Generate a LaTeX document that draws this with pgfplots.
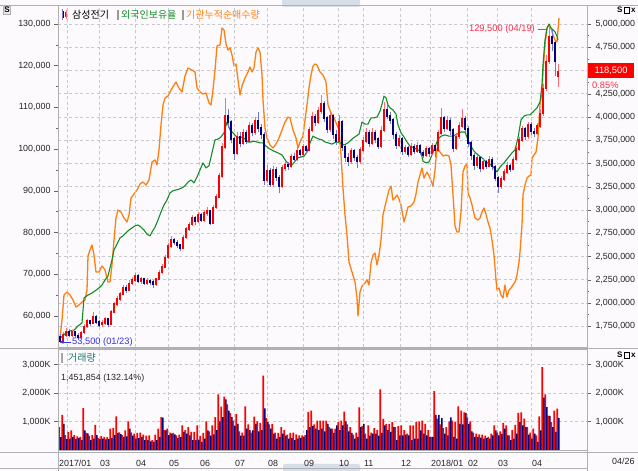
\documentclass[border=0pt]{standalone}
\usepackage{pgfplots}
\pgfplotsset{compat=1.18}
\usepackage{pgfplotstable}
\usetikzlibrary{arrows.meta}
\usepackage{fontspec}
\setmainfont{Liberation Sans}
\newfontfamily\kr{Noto Sans CJK KR}
\definecolor{bg}{RGB}{252,250,253}
\definecolor{frame}{RGB}{175,175,180}
\definecolor{gridc}{RGB}{200,200,205}
\definecolor{upred}{RGB}{255,0,0}
\definecolor{dnblue}{RGB}{0,0,128}
\definecolor{upwick}{RGB}{255,110,120}
\definecolor{dnwick}{RGB}{120,120,200}
\definecolor{orng}{RGB}{255,128,16}
\definecolor{grn}{RGB}{20,140,40}
\definecolor{lblred}{RGB}{255,45,75}
\definecolor{lblblue}{RGB}{50,50,230}
\definecolor{tealc}{RGB}{30,120,110}
\definecolor{tabc}{RGB}{215,222,230}

\pgfplotstableread{
x o c h l vr vb
60 55000 54000 55600 53500 800 450
63 54000 55500 56200 53800 1230 920
66 55500 56300 57000 55000 520 380
69 56300 55400 56800 54900 630 400
72 55400 56200 56700 55000 690 450
75 56200 55300 56500 54800 520 380
78 55300 54800 55900 54200 480 420
81 54800 56000 56400 54500 460 350
84 56000 57500 58000 55700 1470 690
87 57500 58700 59300 57100 600 580
90 58700 58200 59100 57600 500 350
93 58200 59800 60900 58000 520 400
96 59800 58600 60200 58100 885 520
99 58600 57900 59000 57300 420 380
102 57900 58300 58900 57400 490 400
105 58300 59200 59700 57900 460 370
108 59200 58000 59600 57400 450 380
111 58000 61000 61500 57800 750 420
114 61000 62800 63300 60700 770 520
117 62800 64000 64800 62400 1180 600
120 64000 65200 65800 63600 620 560
123 65200 66800 67400 64900 520 460
126 66800 66200 67500 65600 689 480
129 66200 67800 68500 65900 1000 750
132 67800 68600 69300 67300 620 500
135 68600 69700 70400 68200 574 402
138 69700 68300 70100 67800 600 420
141 68300 68800 69400 67700 609 460
144 68800 67900 69200 67400 540 345
147 67900 68500 69000 67400 500 350
150 68500 68100 68900 67500 517 300
153 68100 67600 68500 66800 350 287
156 67600 68800 69200 67200 540 345
159 68800 70400 70900 68500 747 460
162 70400 71800 72400 70000 1150 1140
165 71800 74000 74600 71500 700 689
168 74000 76800 77500 73700 747 520
171 76800 78200 79200 76300 609 574
174 78200 77600 78800 77000 600 550
177 77600 77000 78100 76200 517 420
180 77000 76300 77300 75600 540 450
183 76300 78800 79300 76000 862 632
186 78800 80800 81400 78500 700 574
189 80800 81900 82600 80300 804 517
192 81900 83400 84200 81500 632 345
195 83400 82600 83900 81900 632 345
198 82600 84200 85000 82200 862 368
201 84200 83000 84600 82400 494 287
204 83000 84600 85400 82600 600 400
207 84600 85200 86000 83900 1000 689
210 85200 82300 85500 81700 650 500
213 82300 86000 86600 82000 862 550
216 86000 88500 89200 85600 1150 700
219 88500 93500 94300 88200 1950 1000
222 93500 100500 101500 93000 1520 1150
225 100500 108000 112200 100000 1870 1780
228 108000 106500 109500 105000 1600 1380
231 106500 102500 107000 101500 1300 1150
234 102500 99000 103000 97500 1034 850
237 99000 103000 104000 98500 1260 919
240 103000 101500 104200 100500 650 500
243 101500 103800 104800 101000 609 500
246 103800 102000 104500 101200 1530 747
249 102000 105500 106500 101500 900 700
252 105500 104000 106300 103200 609 689
255 104000 106800 107800 103500 1170 919
258 106800 105000 108900 104200 1000 655
261 105000 103500 106000 102500 954 700
264 103500 92500 104000 91500 2610 1460
267 92500 94800 96200 91800 1115 977
270 94800 91500 95500 90800 900 750
273 91500 95000 96000 91000 919 574
276 95000 93200 95800 92300 609 402
279 93200 91000 93800 89500 600 450
282 91000 95500 96300 90600 804 574
285 95500 96200 97000 94800 700 500
288 96200 95800 97000 95000 540 402
291 95800 98200 98900 95400 600 420
294 98200 97600 99000 96800 609 345
297 97600 99500 100300 97200 550 400
300 99500 98800 100100 98000 517 425
303 98800 100500 101300 98300 517 460
306 100500 99800 101000 99000 520 700
309 99800 104500 105300 99500 1340 800
312 104500 107800 108800 104000 1380 850
315 107800 106500 108500 105500 900 747
318 106500 109200 110200 106000 1034 700
321 109200 110800 113000 108500 1034 750
324 110800 107500 111500 106500 1034 655
327 107500 104800 108000 103800 1034 919
330 104800 108000 109000 104200 800 747
333 108000 103500 108500 102500 747 600
336 103500 102000 104500 101000 747 862
339 102000 106500 108200 101500 980 700
342 106500 100500 107000 99500 1034 862
345 100500 98000 101000 97000 1344 1000
348 98000 97200 99000 96000 900 655
351 97200 99500 100300 96500 804 600
354 99500 98000 100000 97200 540 402
357 98000 97000 98500 95500 609 450
360 97000 99800 100500 96500 1494 800
363 99800 102000 103000 99200 850 919
366 102000 104000 105000 101500 574 402
369 104000 101500 104500 100500 862 500
372 101500 103800 105000 101000 609 574
375 103800 102500 104500 101500 770 574
378 102500 100800 103000 100000 700 500
381 100800 104500 105500 100300 2126 600
384 104500 109500 111300 104000 1092 862
387 109500 108000 110800 107200 919 700
390 108000 107000 109000 106000 919 632
393 107000 103500 107500 102500 977 804
396 103500 101000 104000 100000 804 345
399 101000 102500 103500 100500 839 517
402 102500 99500 103000 98500 862 517
405 99500 100200 101000 98800 700 540
408 100200 98800 100800 98000 574 517
411 98800 100500 101500 98300 862 345
414 100500 99600 101200 98800 862 400
417 99600 100800 101700 99000 977 400
420 100800 99200 101200 98500 1000 689
423 99200 98500 99800 97800 1034 574
426 98500 100000 100800 98000 919 517
429 100000 99000 100500 98200 700 460
432 99000 100800 101500 98500 460 460
435 100800 99800 101300 98200 2068 1229
438 99800 103800 104500 99300 1100 1229
441 103800 107500 109900 103300 900 1114
444 107500 105000 108000 104200 770 574
447 105000 106800 108000 104500 804 517
450 106800 104500 107500 103500 1000 1149
453 104500 100200 105000 99300 1034 460
456 100200 103000 103800 99800 977 400
459 103000 105500 106500 102500 1528 919
462 105500 107200 109500 105000 1379 900
465 107200 104800 108000 104000 1321 1300
468 104800 101500 105500 100500 1149 919
471 101500 98500 102000 97500 1000 655
474 98500 96200 99000 95000 609 460
477 96200 97800 98500 95500 574 460
480 97800 95500 98200 94500 550 430
483 95500 97000 97800 95000 540 402
486 97000 96000 97500 95200 500 420
489 96000 97500 98300 95600 460 402
492 97500 95800 98000 95000 574 517
495 95800 93000 96200 92300 862 689
498 93000 91000 93500 89500 609 517
501 91000 92800 93600 90500 650 560
504 92800 94500 95200 92300 954 747
507 94500 96000 96800 94000 862 517
510 96000 95200 96500 94500 517 345
513 95200 97500 98200 95000 700 402
516 97500 100000 100800 97200 885 574
519 100000 102200 103000 99500 1300 977
522 102200 104800 105500 101800 1321 862
525 104800 103000 105300 102200 1100 800
528 103000 105800 106500 102500 804 540
531 105800 104200 106500 103500 609 402
534 104200 103800 105000 102800 747 574
537 103800 105500 106300 103300 517 287
540 105500 108500 109500 105000 1183 689
543 108500 114500 115500 108000 2907 1840
546 114500 121000 122500 114000 1953 1500
549 121000 127000 129500 120500 1206 1200
552 127000 125500 128500 123500 977 804
555 125500 121000 126000 117500 1379 632
558 117500 118500 120500 115000 1452 1114
}\candles

\pgfplotstableread{
x v
60 1623600
62 1817100
64 2085900
67 2118200
70 2085900
73 2032200
76 1956900
79 1978500
82 2010700
85 2032200
87 2139700
88 2505300
90 2569800
92 2623600
94 2516800
96 2333300
99 2333300
102 2397800
105 2354800
108 2225700
110 2225700
112 2408500
114 2677400
116 2913900
118 2999900
121 2978400
124 2913900
127 2870900
129 2946100
131 3129000
134 3172000
137 3215000
140 3279500
143 3301000
146 3268800
149 3322500
152 3516100
155 3537600
157 3483800
159 3645100
161 3913900
163 4129000
165 4204300
168 4225800
171 4290300
174 4344100
176 4376300
179 4311800
182 4268800
185 4440800
188 4526900
192 4505400
195 4483900
197 4311800
200 4268800
203 4247300
206 4258000
209 4150500
211 4129000
213 4290300
215 4505400
217 4763400
220 4774200
222 4957000
224 4935500
226 4784900
228 4720400
230 4741900
232 4666700
234 4548400
236 4569900
238 4397800
240 4236500
242 4333300
245 4419300
248 4483900
250 4537600
252 4483900
254 4526900
256 4698900
258 4741900
260 4698900
262 4451600
263 4182800
265 3881700
267 3774200
270 3698900
273 3666700
276 3709600
279 3774200
282 3860200
285 3946200
288 4000000
290 3989200
293 3860200
296 3774200
298 3666700
300 3731100
303 3795700
305 3967700
307 4129000
309 4311800
311 4451600
313 4548400
315 4569900
317 4559100
320 4483900
323 4451600
326 4376300
328 4129000
331 4043000
334 3989200
337 3913900
339 3860200
341 3591400
343 3236500
345 2946200
347 2731100
349 2440800
352 2333300
355 2225700
357 2053700
358 1860100
360 2118200
362 2183000
365 2215000
367 2247300
369 2193500
371 2430000
373 2516000
375 2537600
377 2408500
379 2516000
381 2677400
383 2946200
386 3086000
389 3215000
391 3258000
393 3107500
395 3129000
397 3161200
399 3118200
401 3053700
404 2870900
406 2946200
408 3032200
411 3043000
414 3086000
416 3172000
418 3301000
420 3376300
422 3451600
424 3344000
427 3408500
430 3344000
433 3258000
435 3430000
437 3666600
440 3623600
443 3580600
446 3591400
449 3580600
451 3483800
453 3161200
455 2827900
457 2763400
459 2763400
461 2978400
463 3408600
465 3473100
467 3494600
468 3182700
470 3129000
472 3053700
475 2913900
478 2892400
480 2913900
482 2978400
484 3021400
486 2956900
488 2870900
490 2806400
492 2677400
494 2516000
496 2247200
497 2139700
499 2161200
501 2085900
503 2053700
505 2193500
507 2064400
509 2139700
511 2161200
513 2193500
515 2225700
517 2301000
519 2440800
520 2548300
522 2838600
523 3161200
525 3268800
527 3344000
529 3365500
531 3376300
532 3559100
534 3591400
536 3623600
538 3774200
540 4129000
542 4268800
543 4483900
545 4774200
547 4957000
549 4989200
551 4957000
553 4881700
555 4827900
557 4806400
558 4935500
559 5064500
}\orangetab

\pgfplotstableread{
x p
60 54700
63 55200
66 55900
70 56400
74 56600
78 57600
82 58300
84 64300
88 65000
92 65500
95 66000
99 66700
102 67400
105 68600
108 69600
110 71500
112 73400
114 75800
117 77200
120 78700
123 79200
126 79900
129 80600
132 81100
135 81600
138 81800
141 81300
144 80600
147 79600
150 79200
152 80100
155 81300
158 83000
161 84900
164 86600
167 87800
170 89500
173 90000
176 90200
179 90400
182 90700
185 91200
188 92100
191 92600
194 91900
197 93300
200 95000
203 96700
206 95500
209 96000
212 99100
215 102200
218 102400
221 102900
224 103900
227 106500
230 104600
233 103900
236 103100
239 102700
242 102900
245 102400
248 101700
251 101700
254 101900
257 101700
260 101500
263 101500
266 100700
270 100000
274 99500
278 99100
282 98600
286 97100
289 96400
292 96200
295 97100
298 97900
301 98100
304 98300
307 99300
310 101500
313 103100
316 102700
319 102400
322 102200
325 101700
328 101500
332 101200
336 101700
340 101500
344 101000
348 101500
352 102400
356 103100
359 103600
362 106500
365 106000
368 106000
371 107500
374 107500
377 107700
380 109100
382 110800
384 112700
386 112300
388 110600
390 109900
393 109400
396 108400
398 105800
401 103900
404 102900
407 101700
410 100700
414 100300
418 99800
421 99300
423 97100
426 96700
429 96900
432 98600
435 100500
438 102400
441 103100
445 103400
449 103100
453 103100
457 103600
461 104100
465 104100
468 102200
471 100700
474 99500
478 98600
482 97900
486 96900
490 96400
494 95500
497 94500
500 95700
504 96700
508 97900
512 99100
515 99800
518 102700
521 107000
524 107900
527 108200
530 108200
533 108900
537 109900
540 111300
542 115400
543 120200
545 126200
547 129000
549 130000
551 129000
553 128600
555 128100
557 127100
558 126200
}\greentab

\pgfplotsset{
  base/.style={
    scale only axis, width=529pt, xmin=58, xmax=587,
    scaled ticks=false,
    axis line style={draw=frame, line width=0.6pt},
    tick align=outside,
    major tick length=4pt, minor tick length=2pt,
    tick style={draw=black!60, line width=0.4pt},
    ticklabel style={font=\fontsize{8.9}{9}\selectfont, text=black!85},
    grid style={draw=gridc, line width=0.5pt, dash pattern=on 3pt off 2.5pt},
    clip=true,
  },
  candle/.style={draw=none, no markers, forget plot},
}

\begin{document}
\begin{tikzpicture}[x=1pt,y=1pt]
\useasboundingbox (0,0) rectangle (638,471);
\fill[bg] (0,0) rectangle (638,471);
\begin{scope}
\clip (0,0) rectangle (638,471);
\fill[tabc, rounded corners=2pt] (282,476) rectangle (360,464);
\fill[tabc, rounded corners=2pt] (283,-5) rectangle (360,7);
\end{scope}

% right axis: institution cumulative net purchases + horizontal grid
\begin{axis}[base, at={(58pt,124pt)}, anchor=south west, height=342pt,
  ymin=1526800, ymax=5204300,
  axis x line=none, axis y line*=right,
  ytick={1750000,2000000,2250000,2500000,2750000,3000000,3250000,3500000,3750000,4000000,4250000,4500000,4750000,5000000},
  yticklabels={{1,750,000},{2,000,000},{2,250,000},{2,500,000},{2,750,000},{3,000,000},{3,250,000},{3,500,000},{3,750,000},{4,000,000},{4,250,000},{},{4,750,000},{5,000,000}},
  minor y tick num=1, ymajorgrids,
  yticklabel style={xshift=1pt},
]
\addplot[orng, line width=1.3pt, line join=round] table[x=x, y=v]{\orangetab};
\end{axis}

% left axis: price candles + foreign ownership
\begin{axis}[base, at={(58pt,124pt)}, anchor=south west, height=342pt,
  ymin=52545, ymax=134556,
  ytick={60000,70000,80000,90000,100000,110000,120000,130000},
  yticklabels={{60,000},{70,000},{80,000},{90,000},{100,000},{110,000},{120,000},{130,000}},
  minor y tick num=1, ytick pos=left,
  xtick={67,99,135,168,199,234,267,303,338,363,400,430,467,497,531},
  xticklabels={}, xtick style={draw=none}, xmajorgrids,
]
\addplot[grn, line width=1.1pt, line join=round] table[x=x, y=p]{\greentab};
% wicks
\addplot[candle,
  restrict expr to domain={\thisrow{c}-\thisrow{o}}{0:10000000},
  error bars/.cd, y dir=both, y explicit, error mark=none,
  error bar style={line width=0.8pt, draw=upwick}]
  table[x=x, y expr={(\thisrow{h}+\thisrow{l})/2}, y error expr={(\thisrow{h}-\thisrow{l})/2}]{\candles};
\addplot[candle,
  restrict expr to domain={\thisrow{c}-\thisrow{o}}{-10000000:-1},
  error bars/.cd, y dir=both, y explicit, error mark=none,
  error bar style={line width=0.8pt, draw=dnwick}]
  table[x=x, y expr={(\thisrow{h}+\thisrow{l})/2}, y error expr={(\thisrow{h}-\thisrow{l})/2}]{\candles};
% bodies
\addplot[candle,
  restrict expr to domain={\thisrow{c}-\thisrow{o}}{0:10000000},
  error bars/.cd, y dir=both, y explicit, error mark=none,
  error bar style={line width=2.8pt, draw=upred}]
  table[x=x, y expr={(\thisrow{o}+\thisrow{c})/2}, y error expr={abs(\thisrow{c}-\thisrow{o})/2+200}]{\candles};
\addplot[candle,
  restrict expr to domain={\thisrow{c}-\thisrow{o}}{-10000000:-1},
  error bars/.cd, y dir=both, y explicit, error mark=none,
  error bar style={line width=2.8pt, draw=dnblue}]
  table[x=x, y expr={(\thisrow{o}+\thisrow{c})/2}, y error expr={abs(\thisrow{c}-\thisrow{o})/2+200}]{\candles};
\end{axis}

% volume pane
\begin{axis}[base, at={(58pt,21pt)}, anchor=south west, height=101pt,
  ymin=0, ymax=3544,
  ytick={1000,2000,3000}, yticklabels={{1,000K},{2,000K},{3,000K}},
  ytick pos=left, ymajorgrids, xmajorgrids,
  xtick={58,67,99,135,168,199,234,267,303,338,363,400,430,467,497,531},
  xticklabels={2017/01,,03,04,05,06,07,08,09,10,11,12,2018/01,02,03,04},
  xtick style={draw=none},
  xticklabel style={anchor=north west, inner sep=0pt, xshift=1pt, yshift=-6pt},
]
\addplot[ybar, bar width=1.6pt, bar shift=-0.8pt, fill=upred, draw=none] table[x=x, y=vr]{\candles};
\addplot[ybar, bar width=1.6pt, bar shift=0.8pt, fill=dnblue, draw=none] table[x=x, y=vb]{\candles};
\end{axis}
\begin{axis}[base, at={(58pt,21pt)}, anchor=south west, height=101pt,
  ymin=0, ymax=3544, axis x line=none, axis y line*=right,
  ytick={1000,2000,3000}, yticklabels={{1,000K},{2,000K},{3,000K}},
  yticklabel style={xshift=1pt},
]
\end{axis}

% frame lines
\draw[frame, line width=0.6pt] (0,19) -- (638,19);
\draw[frame, line width=0.6pt] (0,3) -- (587,3);
\draw[frame, line width=0.6pt] (58,0) -- (58,466);
\draw[frame, line width=0.6pt] (587,0) -- (587,466);
\draw[frame, line width=0.6pt] (0,123) -- (638,123);
\draw[frame, line width=0.6pt] (0,466) -- (638,466);

% corner icons
\node[draw=frame, fill=black!8, inner sep=1pt, font=\bfseries\fontsize{8}{8}\selectfont] at (7,461) {S};
\node[anchor=west, inner sep=0pt, font=\bfseries\fontsize{8}{8}\selectfont] at (617,461) {S};
\draw[black, line width=0.6pt] (624.5,458) rectangle (629.5,464);
\node[anchor=west, inner sep=0pt, font=\bfseries\fontsize{8}{8}\selectfont] at (631,461) {x};
\node[anchor=west, inner sep=0pt, font=\bfseries\fontsize{8}{8}\selectfont] at (617,116) {S};
\draw[black, line width=0.6pt] (624.5,113) rectangle (629.5,119);
\node[anchor=west, inner sep=0pt, font=\bfseries\fontsize{8}{8}\selectfont] at (631,116) {x};

% legend
\fill[dnblue] (61.5,453) rectangle (63.5,460);
\draw[dnwick, line width=0.5pt] (62.5,451) -- (62.5,462);
\fill[upred] (65,454) rectangle (67,459);
\draw[upwick, line width=0.5pt] (66,452) -- (66,461);
\node[anchor=west, inner sep=0pt, font=\kr\fontsize{10}{10}\selectfont] at (72,456) {삼성전기};
\fill[black!40] (117,451) rectangle (119,461);
\node[anchor=west, inner sep=0pt, text=grn, font=\kr\fontsize{10}{10}\selectfont] at (121,456) {외국인보유율};
\fill[black!40] (182,451) rectangle (184,461);
\node[anchor=west, inner sep=0pt, text=orng, font=\kr\fontsize{10}{10}\selectfont] at (186,456) {기관누적순매수량};

% volume legend
\fill[black!35] (61,108) rectangle (63,118);
\node[anchor=west, inner sep=0pt, text=tealc, font=\kr\fontsize{10}{10}\selectfont] at (68,113) {거래량};
\node[anchor=west, inner sep=0pt, font=\fontsize{8.9}{9}\selectfont, text=black!85] at (61,93) {1,451,854 (132.14\%)};

% annotations
\node[anchor=east, inner sep=0pt, text=lblred, font=\fontsize{9.3}{9}\selectfont] at (535,442) {129,500 (04/19)};
\draw[lblred, line width=0.7pt] (538,442) -- (546,442);
\draw[lblblue, line width=0.8pt, -{Stealth[length=3.5pt,width=3.5pt]}] (71,129) -- (60,129);
\node[anchor=west, inner sep=0pt, text=lblblue, font=\fontsize{9.3}{9}\selectfont] at (72,129) {53,500 (01/23)};

\fill[upred] (588,393) rectangle (634,408);
\node[text=white, inner sep=0pt, font=\fontsize{9.3}{9}\selectfont] at (611,400.5) {118,500};
\node[anchor=west, inner sep=0pt, text=lblred, font=\fontsize{9.3}{9}\selectfont] at (592,386) {0.85\%};

\node[anchor=west, inner sep=0pt, font=\fontsize{8.9}{9}\selectfont, text=black!85] at (612,10) {04/26};
\end{tikzpicture}
\end{document}
